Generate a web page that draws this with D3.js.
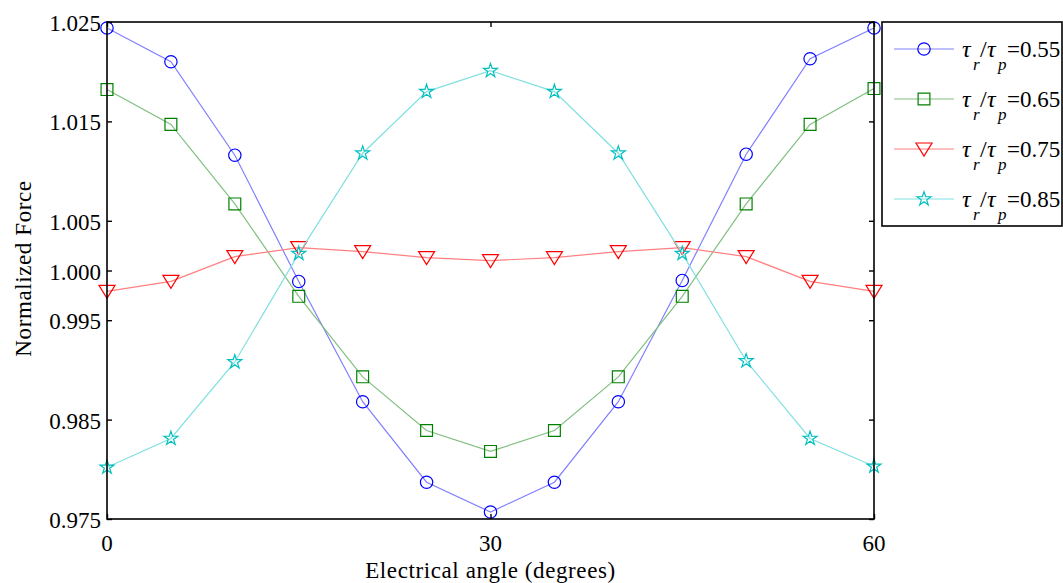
<!DOCTYPE html>
<html>
<head>
<meta charset="utf-8">
<script src="https://cdn.jsdelivr.net/npm/d3@7"></script>
<style>
body { margin: 0; background: #fff; }
svg { display: block; font-family: "Liberation Serif", "DejaVu Serif", serif; }
</style>
</head>
<body>
<svg></svg>
<script>
var screen = {width: 1063, height: 583}
var margins = {top: 22, right: 189, bottom: 64, left: 107}

// data
var angles = [0, 5, 10, 15, 20, 25, 30, 35, 40, 45, 50, 55, 60]
var ratio055 = [1.0244, 1.0210, 1.0116, 0.9989, 0.9868, 0.9787, 0.9757, 0.9787, 0.9868, 0.9990, 1.0117, 1.0213, 1.0244]
var ratio065 = [1.0182, 1.0147, 1.0067, 0.9974, 0.9893, 0.9839, 0.9818, 0.9839, 0.9893, 0.9974, 1.0067, 1.0147, 1.0183]
var ratio075 = [0.9979, 0.9989, 1.0014, 1.0023, 1.0019, 1.0013, 1.0010, 1.0013, 1.0019, 1.0023, 1.0014, 0.9989, 0.9979]
var ratio085 = [0.9802, 0.9831, 0.9908, 1.0017, 1.0118, 1.0180, 1.0201, 1.0180, 1.0118, 1.0017, 0.9909, 0.9831, 0.9803]
var seriesNames = ["0.55", "0.65", "0.75", "0.85"]
var yTicks = [0.975, 0.985, 0.995, 1.000, 1.005, 1.015, 1.025]
var xTicks = [0, 30, 60]

var series = [
    {name: seriesNames[0], values: ratio055, line: "#8080ff", mark: "#0000ff", shape: "circle"},
    {name: seriesNames[1], values: ratio065, line: "#80c080", mark: "#008000", shape: "square"},
    {name: seriesNames[2], values: ratio075, line: "#ff8080", mark: "#ff0000", shape: "triangle"},
    {name: seriesNames[3], values: ratio085, line: "#80e0e0", mark: "#00bfbf", shape: "star"}
]

var svg = d3.select("svg")
    .attr("width", screen.width)
    .attr("height", screen.height)

var width = screen.width - margins.left - margins.right
var height = screen.height - margins.top - margins.bottom

var xScale = d3.scaleLinear()
                .domain([0, 60])
                .range([margins.left, margins.left + width])

var yScale = d3.scaleLinear()
                .domain([0.975, 1.025])
                .range([margins.top + height, margins.top])

var shapes = {
    circle: d3.symbol().type(d3.symbolCircle).size(120),
    square: d3.symbol().type(d3.symbolSquare).size(140),
    star: d3.symbol().type(d3.symbolStar).size(60)
}

var markerPath = function(shape)
{
    if (shape == "triangle") {
        return "M-8,-6L8,-6L0,7Z"
    }
    return shapes[shape]()
}

// series
var plot = svg.append("g").attr("id", "plot")

series.forEach(function(s)
{
    var pts = angles.map(function(a, i) { return [a, s.values[i]] })
    var line = d3.line()
        .x(function(d) { return xScale(d[0]) })
        .y(function(d) { return yScale(d[1]) })

    plot.append("path")
        .attr("d", line(pts))
        .attr("fill", "none")
        .attr("stroke", s.line)
        .attr("stroke-width", 1.2)

    plot.selectAll(null)
        .data(pts)
        .enter()
        .append("path")
        .attr("transform", function(d) { return "translate(" + xScale(d[0]) + "," + yScale(d[1]) + ")" })
        .attr("d", markerPath(s.shape))
        .attr("fill", "none")
        .attr("stroke", s.mark)
        .attr("stroke-width", 1.2)
})

// frame
svg.append("rect")
    .attr("x", margins.left)
    .attr("y", margins.top)
    .attr("width", width)
    .attr("height", height)
    .attr("fill", "none")
    .attr("stroke", "#000")
    .attr("stroke-width", 1.6)

// axes
var yAxisLeft = d3.axisRight(yScale).tickValues(yTicks).tickSize(5).tickFormat("")
var yAxisRight = d3.axisLeft(yScale).tickValues(yTicks).tickSize(5).tickFormat("")
var xAxisBottom = d3.axisTop(xScale).tickValues(xTicks).tickSize(5).tickFormat("")
var xAxisTop = d3.axisBottom(xScale).tickValues(xTicks).tickSize(5).tickFormat("")

svg.append("g").attr("transform", "translate(" + margins.left + ",0)").call(yAxisLeft)
svg.append("g").attr("transform", "translate(" + (margins.left + width) + ",0)").call(yAxisRight)
svg.append("g").attr("transform", "translate(0," + (margins.top + height) + ")").call(xAxisBottom)
svg.append("g").attr("transform", "translate(0," + margins.top + ")").call(xAxisTop)

svg.selectAll(".domain").remove()
svg.selectAll(".tick line").attr("stroke", "#000").attr("stroke-width", 1.4)

// tick labels
svg.append("g")
    .selectAll("text")
    .data(yTicks)
    .enter()
    .append("text")
    .attr("x", margins.left - 6)
    .attr("y", function(d) { return yScale(d) + 9 })
    .attr("text-anchor", "end")
    .attr("font-size", 23)
    .text(function(d) { return d3.format(".3f")(d) })

svg.append("g")
    .selectAll("text")
    .data(xTicks)
    .enter()
    .append("text")
    .attr("x", function(d) { return xScale(d) })
    .attr("y", margins.top + height + 32)
    .attr("text-anchor", "middle")
    .attr("font-size", 23)
    .text(function(d) { return d })

svg.append("text")
    .attr("x", xScale(30))
    .attr("y", 578)
    .attr("text-anchor", "middle")
    .attr("font-size", 23)
    .attr("letter-spacing", 0.6)
    .text("Electrical angle (degrees)")

svg.append("text")
    .attr("transform", "translate(31," + (margins.top + height / 2 - 2) + ") rotate(-90)")
    .attr("text-anchor", "middle")
    .attr("font-size", 23)
    .attr("letter-spacing", 0.6)
    .text("Normalized Force")

// legend
var legend = svg.append("g").attr("id", "legend")

legend.append("rect")
    .attr("x", 882)
    .attr("y", 22)
    .attr("width", 180)
    .attr("height", 204)
    .attr("fill", "#fff")
    .attr("stroke", "#000")
    .attr("stroke-width", 1.6)

var rows = legend.selectAll("g.row")
    .data(series)
    .enter()
    .append("g")
    .attr("class", "row")
    .attr("transform", function(d, i) { return "translate(0," + (49 + i * 50) + ")" })

rows.append("line")
    .attr("x1", 894).attr("x2", 954)
    .attr("stroke", function(d) { return d.line })
    .attr("stroke-width", 1.2)

rows.append("path")
    .attr("transform", "translate(924,0)")
    .attr("d", function(d) { return markerPath(d.shape) })
    .attr("fill", "none")
    .attr("stroke", function(d) { return d.mark })
    .attr("stroke-width", 1.2)

// tau_r / tau_p label, pieces placed one by one
var pieces = [
    {t: "τ", x: 962, y: 8, size: 24, italic: true},
    {t: "r", x: 973, y: 21, size: 17, italic: true},
    {t: "/", x: 980, y: 8, size: 24, italic: false},
    {t: "τ", x: 987, y: 8, size: 24, italic: true},
    {t: "p", x: 998, y: 21, size: 17, italic: true}
]

pieces.forEach(function(p)
{
    rows.append("text")
        .attr("x", p.x)
        .attr("y", p.y)
        .attr("font-size", p.size)
        .attr("font-style", p.italic ? "italic" : "normal")
        .text(p.t)
})

rows.append("text")
    .attr("x", 1007)
    .attr("y", 8)
    .attr("font-size", 23)
    .text(function(d) { return "=" + d.name })
</script>
</body>
</html>
